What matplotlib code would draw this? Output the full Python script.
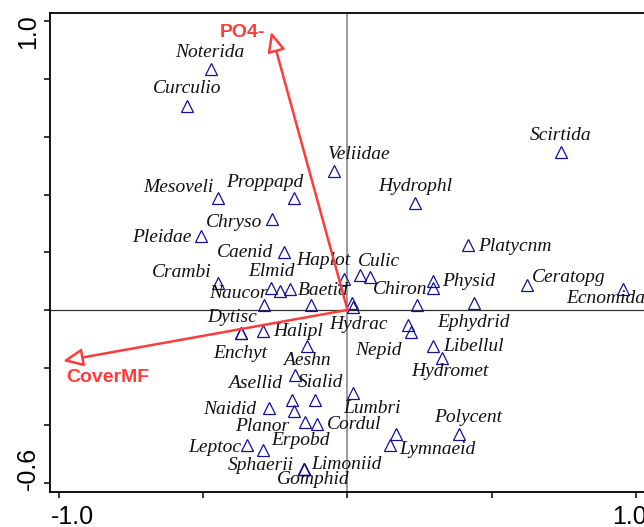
import matplotlib as mpl

mpl.use('Agg')
import matplotlib.pyplot as plt
from matplotlib.transforms import ScaledTranslation

# species scores (axis 1, axis 2); '' = point drawn without a label
species = ['Noterida', 'Curculio', 'Mesoveli', 'Proppapd', 'Chryso', 'Pleidae',
           'Caenid', 'Veliidae', 'Hydrophl', 'Scirtida', 'Platycnm', 'Haplot',
           'Culic', '', 'Crambi', 'Elmid', '', '', 'Naucor', 'Baetid', '',
           'Hydrac', 'Chiron', 'Physid', '', 'Ephydrid', 'Ceratopg', 'Ecnomida',
           'Dytisc', 'Enchyt', 'Halipl', 'Aeshn', '', 'Nepid', 'Libellul',
           'Hydromet', 'Asellid', '', 'Sialid', '', 'Naidid', 'Lumbri',
           'Polycent', '', 'Lymnaeid', 'Planor', 'Cordul', 'Leptoc', 'Erpobd',
           'Sphaerii', 'Limoniid', 'Gomphid']
ax1 = [-0.473, -0.556, -0.449, -0.185, -0.262, -0.508,
       -0.220, -0.047, 0.234, 0.740, 0.418, -0.012,
       0.043, 0.078, -0.449, -0.265, -0.234, -0.199, -0.289, -0.127, 0.016,
       0.019, 0.241, 0.296, 0.296, 0.438, 0.622, 0.955,
       -0.369, -0.369, -0.293, -0.140, 0.210, 0.220, 0.296,
       0.328, -0.182, -0.192, -0.113, -0.185, -0.272, 0.019,
       0.386, 0.168, 0.147, -0.147, -0.106, -0.348, -0.293,
       -0.151, -0.151, -0.151]
ax2 = [0.835, 0.707, 0.388, 0.388, 0.315, 0.256,
       0.201, 0.482, 0.371, 0.548, 0.225, 0.107,
       0.121, 0.114, 0.094, 0.076, 0.066, 0.073, 0.017, 0.017, 0.024,
       0.010, 0.017, 0.101, 0.076, 0.024, 0.087, 0.073,
       -0.080, -0.080, -0.073, -0.125, -0.052, -0.076, -0.125,
       -0.166, -0.225, -0.312, -0.312, -0.350, -0.340, -0.288,
       -0.430, -0.430, -0.468, -0.388, -0.395, -0.468, -0.485,
       -0.551, -0.551, -0.551]

# environmental variable arrows
env_names = ['PO4-', 'CoverMF']
env_x = [-0.265, -0.986]
env_y = [0.964, -0.177]

# label offsets from the point, in pixels (dx right, dy down)
label_off = {
    'Noterida': (-1, -16), 'Curculio': (0, -17), 'Mesoveli': (-39.5, -10),
    'Proppapd': (-29, -15), 'Chryso': (-38, 3), 'Pleidae': (-39.5, 1),
    'Caenid': (-39, 1), 'Veliidae': (25.5, -16), 'Hydrophl': (0, -16),
    'Scirtida': (0, -16), 'Platycnm': (46.5, 2), 'Haplot': (-21, -19),
    'Culic': (19, -14), 'Crambi': (-36, -10), 'Elmid': (0, -16),
    'Naucor': (-26, -12), 'Baetid': (12, -15), 'Chiron': (-17, -16),
    'Physid': (36, 1), 'Ceratopg': (42, -7), 'Ecnomida': (-17, 10),
    'Hydrac': (5, 17), 'Ephydrid': (0, 20), 'Dytisc': (-9, -16),
    'Enchyt': (-1, 20), 'Halipl': (35.5, 1), 'Aeshn': (0, 15),
    'Nepid': (-32.5, 19), 'Libellul': (40.5, 1), 'Hydromet': (8, 14),
    'Asellid': (-40, 9), 'Sialid': (6, -17), 'Naidid': (-39, 1),
    'Lumbri': (19, 15), 'Polycent': (9, -17), 'Planor': (-42.5, 5),
    'Cordul': (37, 1), 'Leptoc': (-32.5, 3), 'Erpobd': (38, -9),
    'Lymnaeid': (47.5, 5), 'Sphaerii': (-43, -3), 'Limoniid': (42.5, -4),
    'Gomphid': (9, 11),
}
env_off = {'PO4-': (-28.5, 1), 'CoverMF': (45, 17)}

RED = '#ff3b3b'
BLUE = '#10109a'

fig = plt.figure(figsize=(6.44, 5.27), dpi=100)
ax = fig.add_axes([50 / 644, 35 / 527, 597 / 644, 479 / 527])
ax.set_xlim(-1.031, 1.038)
ax.set_ylim(-0.631, 1.029)

ax.axvline(0, color='#8a8a8a', lw=1.2, zorder=1)
ax.axhline(0, color='#333333', lw=0.9, zorder=1)

ax.plot(ax1, ax2, linestyle='none', marker='^', ms=8.5, mfc='none',
        mec=BLUE, mew=0.9, zorder=3)

for name, x, y in zip(species, ax1, ax2):
    if not name:
        continue
    dx, dy = label_off[name]
    ax.annotate(name, (x, y), xytext=(dx, -dy), textcoords='offset pixels',
                ha='center', va='center', fontsize=14, family='Liberation Serif',
                style='italic', color='#111111', annotation_clip=False, zorder=4)

for name, x, y in zip(env_names, env_x, env_y):
    ax.annotate('', xy=(x, y), xytext=(0, 0),
                arrowprops=dict(arrowstyle='-|>,head_length=1.0,head_width=0.45',
                                mutation_scale=12, lw=1.8, ec=RED, fc='white',
                                shrinkA=0, shrinkB=0), zorder=5)
    dx, dy = env_off[name]
    ax.annotate(name, (x, y), xytext=(dx, -dy), textcoords='offset pixels',
                ha='center', va='center', fontsize=14, family='Liberation Sans',
                weight='bold', color=RED, zorder=6)

for s in ['left', 'top', 'bottom']:
    ax.spines[s].set_linewidth(1.3)
ax.spines['right'].set_visible(False)

ax.set_xticks([-1.0, -0.5, 0.0, 0.5, 1.0], ['-1.0', '', '', '', '1.0'])
ax.set_yticks([-0.6, -0.4, -0.2, 0.0, 0.2, 0.4, 0.6, 0.8, 1.0],
              ['-0.6', '', '', '', '', '', '', '', '1.0'])
ax.tick_params(direction='out', length=4, width=1.1, labelsize=18, pad=5)
ax.tick_params(axis='y', pad=3)
for lab in ax.get_xticklabels() + ax.get_yticklabels():
    lab.set_family('Liberation Sans')
for lab in ax.get_yticklabels():
    lab.set_rotation(90)
    lab.set_va('center')

# CanoDraw nudges the end labels inward
xl = ax.get_xticklabels()
xl[0].set_transform(xl[0].get_transform() + ScaledTranslation(0.135, 0, fig.dpi_scale_trans))
xl[-1].set_transform(xl[-1].get_transform() + ScaledTranslation(-0.07, 0, fig.dpi_scale_trans))
yl = ax.get_yticklabels()
yl[0].set_transform(yl[0].get_transform() + ScaledTranslation(0, 0.15, fig.dpi_scale_trans))
yl[-1].set_transform(yl[-1].get_transform() + ScaledTranslation(0, -0.10, fig.dpi_scale_trans))

fig.savefig('out.png', dpi=100)
